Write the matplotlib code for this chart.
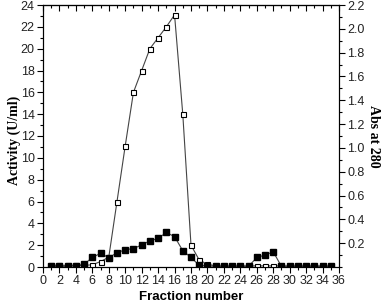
import numpy as np
import matplotlib.pyplot as plt
from matplotlib.ticker import MultipleLocator, FixedLocator

# Data
fractions = np.arange(1, 36)
activity = [0.15, 0.15, 0.15, 0.15, 0.15, 0.2, 0.5, 0.9, 6.0, 11.1,
            16.0, 18.0, 20.0, 21.0, 22.0, 23.1, 14.0, 2.0, 0.64, 0.25,
            0.1, 0.1, 0.1, 0.1, 0.1, 0.1, 0.1, 0.1, 0.1, 0.1,
            0.1, 0.1, 0.1, 0.1, 0.1]
abs280 = [0.005, 0.005, 0.005, 0.01, 0.023, 0.08, 0.115, 0.078, 0.12, 0.145,
          0.155, 0.185, 0.22, 0.24, 0.29, 0.255, 0.137, 0.08, 0.014, 0.009,
          0.005, 0.005, 0.005, 0.005, 0.005, 0.08, 0.1, 0.128, 0.005, 0.005,
          0.005, 0.005, 0.005, 0.005, 0.005]

fig = plt.figure(figsize=(3.81, 3.07), dpi=100)
ax1 = fig.add_axes([43/381, 1-267/307, 296/381, 262/307])
ax2 = ax1.twinx()

ax1.plot(fractions, activity, color='#444444', lw=0.8, marker='s', ms=3.6,
         mfc='white', mec='black', mew=0.8, zorder=3)
ax2.plot(fractions, abs280, color='#444444', lw=0.8, marker='s', ms=4.2,
         mfc='black', mec='black', zorder=2)

ax1.set_xlim(0, 36)
ax1.set_ylim(0, 24)
ax2.set_ylim(0, 2.2)

ax1.set_xticks(np.arange(0, 37, 2))
ax1.xaxis.set_minor_locator(MultipleLocator(1))
ax1.set_yticks(np.arange(0, 25, 2))
ax1.yaxis.set_minor_locator(MultipleLocator(1))
ax2.yaxis.set_major_locator(FixedLocator(np.round(np.arange(0.2, 2.21, 0.2), 1)))
ax2.yaxis.set_minor_locator(MultipleLocator(0.1))
ax2.set_yticklabels([f'{v:.1f}' for v in np.arange(0.2, 2.21, 0.2)])

for a in (ax1, ax2):
    for lab in a.get_xticklabels() + a.get_yticklabels():
        lab.set_fontfamily('Liberation Sans')
        lab.set_fontsize(9)
        lab.set_color('#222222')

ax1.tick_params(which='major', direction='out', length=4, width=0.8, pad=2)
ax1.tick_params(which='minor', direction='out', length=2, width=0.8)
ax2.tick_params(which='major', direction='out', length=4, width=0.8, pad=2)
ax2.tick_params(which='minor', direction='out', length=2, width=0.8)

top = ax1.secondary_xaxis('top')
top.set_xticks(np.arange(0, 37, 2))
top.xaxis.set_minor_locator(MultipleLocator(1))
top.tick_params(which='major', direction='in', length=4, width=0.8, labeltop=False)
top.tick_params(which='minor', direction='in', length=2, width=0.8)

for a in (ax1, ax2):
    for s in a.spines.values():
        s.set_linewidth(0.8)

# axis titles placed in figure pixels
fig.text(191/381, 1-297/307, 'Fraction number', family='Liberation Sans',
         weight='bold', size=9.5, ha='center', va='center')
fig.text(14/381, 1-140/307, 'Activity (U/ml)', family='Liberation Serif',
         weight='bold', size=10, rotation=90, ha='center', va='center')
fig.text(373/381, 1-136/307, 'Abs at 280', family='Liberation Serif',
         weight='bold', size=10, rotation=-90, ha='center', va='center')

fig.savefig('out.png', dpi=100)
